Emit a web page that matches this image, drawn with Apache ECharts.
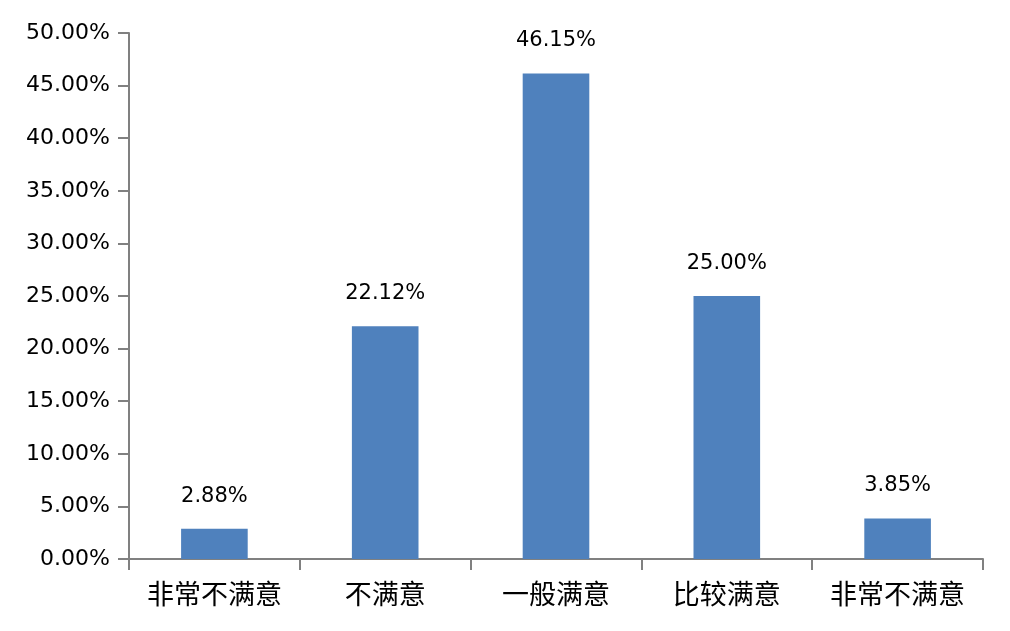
<!DOCTYPE html>
<html lang="zh">
<head>
  <meta charset="UTF-8">
  <title>满意度</title>
  <style>
    html, body { margin: 0; padding: 0; background: #fff; }
    #chart { width: 1010px; height: 631px; }
  </style>
</head>
<body>
  <div id="chart"></div>
  <script src="https://cdn.jsdelivr.net/npm/echarts@6/dist/echarts.min.js"></script>
  <script>
    // 数据（百分比）
    var categories = ['非常不满意', '不满意', '一般满意', '比较满意', '非常不满意']
    var values = [2.88, 22.12, 46.15, 25.00, 3.85]
    var yTicks = { min: 0, max: 50, interval: 5 }

    var axisColor = '#808080'
    var textColor = '#000'

    var chart = echarts.init(document.getElementById('chart'))
    var option = {
      animation: false,
      backgroundColor: '#fff',
      grid: { left: 129, right: 27, top: 33, bottom: 72 },
      xAxis: {
        type: 'category',
        data: categories,
        axisLine: { lineStyle: { color: axisColor, width: 2 } },
        axisTick: { show: true, length: 11, interval: 0, lineStyle: { color: axisColor, width: 2 } },
        axisLabel: {
          interval: 0,
          margin: 21,
          color: textColor,
          fontSize: 27,
          fontFamily: 'Noto Sans CJK SC'
        }
      },
      yAxis: {
        type: 'value',
        min: yTicks.min,
        max: yTicks.max,
        interval: yTicks.interval,
        axisLine: { show: true, lineStyle: { color: axisColor, width: 2 } },
        axisTick: { show: true, length: 11, lineStyle: { color: axisColor, width: 2 } },
        splitLine: { show: false },
        axisLabel: {
          margin: 19,
          color: textColor,
          fontSize: 22,
          fontFamily: 'DejaVu Sans',
          formatter: function (v) { return v.toFixed(2) + '%' }
        }
      },
      series: [{
        type: 'bar',
        data: values,
        barWidth: '39%',
        itemStyle: { color: '#4F81BD' },
        label: {
          show: true,
          position: 'top',
          distance: 22,
          color: textColor,
          fontSize: 21,
          fontFamily: 'DejaVu Sans',
          formatter: function (p) { return p.value.toFixed(2) + '%' }
        }
      }]
    }
    chart.setOption(option)
  </script>
</body>
</html>
